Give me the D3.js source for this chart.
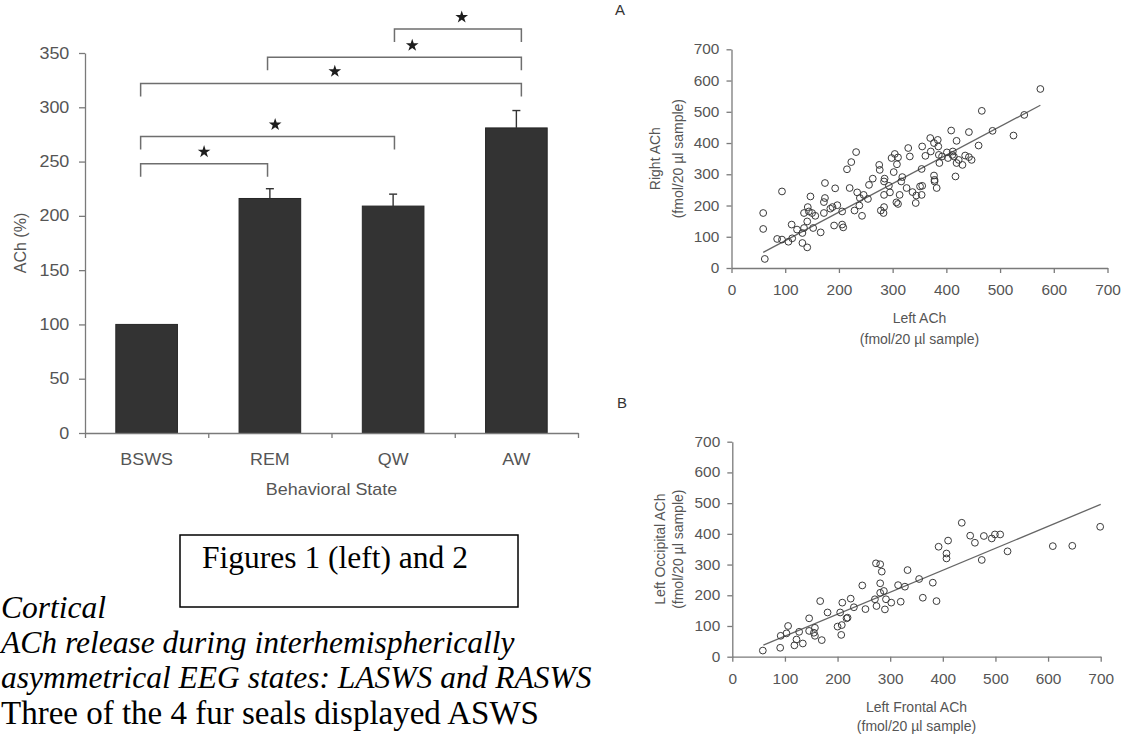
<!DOCTYPE html>
<html>
<head>
<meta charset="utf-8">
<script src="https://cdn.jsdelivr.net/npm/d3@7"></script>
<style>
    body { margin: 0; background: #fff; }
    svg { display: block; }
    .sans { font-family: "Liberation Sans", Arial, sans-serif; fill: #555; }
    .stretch text, text.stretch { transform: scaleX(1.12); }
    .serif { font-family: "Liberation Serif", "Times New Roman", serif; fill: #000; }
</style>
</head>
<body>
<svg id="chart" width="1125" height="737"></svg>
<script>
// Figure 1: ACh by behavioral state
let states = ['BSWS', 'REM', 'QW', 'AW'];
let achPercent = [100, 216, 209, 281];
let achError = [0, 9, 11, 16];
let barTicks = [0, 50, 100, 150, 200, 250, 300, 350];

// significance brackets: [from, to, height in %]
let compareFrom = ['BSWS', 'BSWS', 'BSWS', 'REM', 'QW'];
let compareTo = ['REM', 'QW', 'AW', 'AW', 'AW'];
let compareLevel = [248, 273, 322, 346, 372];

// Figure 2A: left vs right ACh
let leftACh = [62, 59, 59, 94, 85, 94, 106, 113, 112, 122, 132, 132, 141, 135, 141, 135, 142, 147, 144, 150,
    156, 152, 166, 172, 174, 174, 172, 184, 188, 191, 193, 197, 206, 206, 208, 215, 223, 220, 232, 229,
    234, 238, 239, 243, 246, 254, 256, 263, 275, 276, 278, 283, 284, 284, 284, 285, 293, 295, 298, 302,
    304, 308, 310, 307, 310, 313, 316, 318, 326, 329, 332, 337, 343, 344, 351, 354, 354, 355, 355, 361,
    370, 371, 377, 377, 378, 378, 382, 384, 385, 386, 387, 392, 401, 403, 409, 411, 414, 412, 417, 419,
    419, 423, 430, 435, 442, 442, 447, 460, 466, 486, 525, 545, 575];
let rightACh = [29, 176, 125, 245, 93, 91, 84, 95, 139, 123, 112, 80, 66, 128, 149, 176, 195, 229, 181, 176,
    167, 128, 114, 176, 272, 224, 211, 190, 195, 136, 255, 201, 181, 139, 130, 316, 339, 256, 371, 184,
    242, 200, 224, 167, 234, 221, 266, 286, 330, 314, 184, 176, 195, 234, 277, 286, 263, 242, 352, 307,
    365, 332, 354, 210, 205, 234, 277, 291, 256, 384, 357, 243, 208, 232, 261, 234, 317, 389, 263, 359,
    416, 373, 400, 296, 282, 277, 256, 410, 389, 362, 336, 357, 370, 352, 440, 362, 357, 373, 293, 407,
    336, 346, 330, 360, 435, 355, 346, 392, 503, 439, 424, 490, 573];
let fitA_x = [59, 575];
let fitA_y = [50, 521];

// Figure 2B: left frontal vs left occipital ACh
let frontalACh = [58, 91, 92, 106, 103, 118, 122, 127, 134, 146, 146, 155, 157, 157, 167, 170, 181, 200, 205, 207,
    208, 209, 217, 219, 225, 231, 247, 253, 274, 273, 281, 284, 281, 271, 281, 288, 290, 292, 302, 315,
    320, 328, 333, 355, 362, 381, 388, 392, 407, 407, 410, 436, 452, 461, 474, 478, 493, 499, 509, 523,
    609, 646, 699];
let occipitalACh = [20, 29, 68, 100, 76, 37, 56, 81, 43, 125, 84, 78, 68, 94, 181, 54, 144, 98, 144, 71,
    103, 176, 125, 127, 189, 161, 232, 155, 165, 304, 301, 277, 239, 187, 208, 214, 154, 187, 176, 233,
    179, 228, 282, 253, 192, 241, 181, 358, 336, 320, 378, 436, 394, 371, 315, 393, 385, 398, 398, 343,
    360, 361, 423];
let fitB_x = [59, 700];
let fitB_y = [38, 496];

let scatterTicks = [0, 100, 200, 300, 400, 500, 600, 700];

let svg = d3.select('#chart');
svg.append('rect').attr('width', 1125).attr('height', 737).attr('fill', '#fff');

function styleAxis(g) {
    g.selectAll('path, line').attr('stroke', '#7a7a7a').attr('stroke-width', 1.3);
    g.selectAll('text').attr('class', 'sans').attr('fill', '#555');
}

// ---------- bar chart ----------
let barLeft = 85, barRight = 578, barBottom = 433, barTop = 53;

let x = d3.scaleBand()
    .domain(states)
    .range([barLeft, barRight])
    .paddingInner(0.5)
    .paddingOuter(0.25);

let y = d3.scaleLinear()
    .domain([0, 350])
    .range([barBottom, barTop]);

let barData = states.map((s, i) => ({ state: s, value: achPercent[i], err: achError[i] }));

svg.append('g')
    .selectAll('rect')
    .data(barData)
    .enter().append('rect')
    .attr('x', d => x(d.state))
    .attr('width', x.bandwidth())
    .attr('y', d => y(d.value))
    .attr('height', d => barBottom - y(d.value))
    .attr('fill', '#333')
    .attr('stroke', '#262626')
    .attr('stroke-width', 1);

// error bars
let errG = svg.append('g').attr('stroke', '#333').attr('stroke-width', 1.4);
barData.filter(d => d.err > 0).forEach(d => {
    let cx = x(d.state) + x.bandwidth() / 2;
    errG.append('line').attr('x1', cx).attr('x2', cx)
        .attr('y1', y(d.value)).attr('y2', y(d.value + d.err));
    errG.append('line').attr('x1', cx - 4).attr('x2', cx + 4)
        .attr('y1', y(d.value + d.err)).attr('y2', y(d.value + d.err));
});

// y axis
let yAxisG = svg.append('g')
    .attr('transform', 'translate(' + barLeft + ',0)')
    .call(d3.axisLeft(y).tickValues(barTicks).tickSize(6).tickSizeOuter(0).tickPadding(8));
styleAxis(yAxisG);
yAxisG.attr('font-size', null).attr('font-family', null);
yAxisG.selectAll('text').style('font-size', '16px').classed('stretch', true);

// x axis: ticks between the categories
let xBounds = d3.scaleLinear().domain([0, states.length]).range([barLeft, barRight]);
let xAxisG = svg.append('g')
    .attr('transform', 'translate(0,' + barBottom + ')')
    .call(d3.axisBottom(xBounds).tickValues([0, 1, 2, 3, 4]).tickSize(5).tickSizeOuter(0).tickFormat(''));
styleAxis(xAxisG);

let xLabG = svg.append('g')
    .attr('transform', 'translate(0,' + barBottom + ')')
    .call(d3.axisBottom(x).tickSize(0).tickPadding(21));
xLabG.select('.domain').remove();
styleAxis(xLabG);
xLabG.attr('font-size', null).attr('font-family', null);
xLabG.selectAll('text').style('font-size', '16px').classed('stretch', true);

svg.append('g')
    .attr('transform', 'translate(' + ((barLeft + barRight) / 2) + ',495)')
    .append('text')
    .attr('class', 'sans stretch')
    .attr('text-anchor', 'middle')
    .style('font-size', '16px')
    .text('Behavioral State');

svg.append('text')
    .attr('class', 'sans')
    .attr('transform', 'translate(26,243) rotate(-90)')
    .attr('text-anchor', 'middle')
    .style('font-size', '16px')
    .text('ACh (%)');

// significance brackets
let legX = d3.scalePoint()
    .domain(states)
    .range([x('BSWS') + x.bandwidth() / 2 - 6, x('AW') + x.bandwidth() / 2 + 5]);
let starFrac = [0.5, 0.53, 0.51, 0.57, 0.53];
let brG = svg.append('g');
compareFrom.forEach((from, i) => {
    let x1 = legX(from), x2 = legX(compareTo[i]);
    let yy = y(compareLevel[i]);
    brG.append('path')
        .attr('d', 'M' + x1 + ',' + (yy + 13) + 'V' + yy + 'H' + x2 + 'V' + (yy + 13))
        .attr('fill', 'none')
        .attr('stroke', '#6e6e6e')
        .attr('stroke-width', 1.5);
    brG.append('path')
        .attr('d', d3.symbol(d3.symbolStar).size(50)())
        .attr('transform', 'translate(' + (x1 + (x2 - x1) * starFrac[i]) + ',' + (yy - 12) + ')')
        .attr('fill', '#1e1e1e');
});

// ---------- scatter plots ----------
function drawScatter(o) {
    let sx = d3.scaleLinear().domain([0, 700]).range([o.left, o.right]);
    let sy = d3.scaleLinear().domain([0, 700]).range([o.bottom, o.top]);

    let gx = svg.append('g')
        .attr('transform', 'translate(0,' + o.bottom + ')')
        .call(d3.axisBottom(sx).tickValues(scatterTicks).tickSize(5).tickSizeOuter(0).tickPadding(12));
    let gy = svg.append('g')
        .attr('transform', 'translate(' + o.left + ',0)')
        .call(d3.axisLeft(sy).tickValues(scatterTicks).tickSize(5).tickSizeOuter(0).tickPadding(6));
    [gx, gy].forEach(g => {
        styleAxis(g);
        g.attr('font-size', null).attr('font-family', null);
        g.selectAll('text').style('font-size', '14px').style('transform', 'scaleX(1.1)');
    });

    svg.append('line')
        .attr('x1', sx(o.fitX[0])).attr('y1', sy(o.fitY[0]))
        .attr('x2', sx(o.fitX[1])).attr('y2', sy(o.fitY[1]))
        .attr('stroke', '#666')
        .attr('stroke-width', 1.3);

    svg.append('g')
        .selectAll('circle')
        .data(o.xs.map((v, i) => [v, o.ys[i]]))
        .enter().append('circle')
        .attr('cx', d => sx(d[0]))
        .attr('cy', d => sy(d[1]))
        .attr('r', 3.4)
        .attr('fill', 'none')
        .attr('stroke', '#3a3a3a')
        .attr('stroke-width', 1);

    let cx = (o.left + o.right) / 2;
    o.xTitle.forEach((t, i) => {
        svg.append('text')
            .attr('class', 'sans')
            .attr('x', cx)
            .attr('y', o.xTitleY[i])
            .attr('text-anchor', 'middle')
            .style('font-size', '14px')
            .text(t);
    });
    let cy = (o.top + o.bottom) / 2;
    o.yTitle.forEach((t, i) => {
        svg.append('text')
            .attr('class', 'sans')
            .attr('transform', 'translate(' + o.yTitleX[i] + ',' + cy + ') rotate(-90)')
            .attr('text-anchor', 'middle')
            .style('font-size', '14px')
            .text(t);
    });

    svg.append('text')
        .attr('class', 'sans')
        .attr('x', o.panelX)
        .attr('y', o.panelY)
        .style('font-size', '15px')
        .style('fill', '#333')
        .text(o.panel);
}

drawScatter({
    xs: leftACh, ys: rightACh, fitX: fitA_x, fitY: fitA_y,
    left: 731.5, right: 1107.5, top: 49.3, bottom: 268,
    xTitle: ['Left ACh', '(fmol/20 µl sample)'], xTitleY: [323, 344],
    yTitle: ['Right ACh', '(fmol/20 µl sample)'], yTitleX: [660, 683],
    panel: 'A', panelX: 615, panelY: 15
});

drawScatter({
    xs: frontalACh, ys: occipitalACh, fitX: fitB_x, fitY: fitB_y,
    left: 732.3, right: 1100.7, top: 441.7, bottom: 656.7,
    xTitle: ['Left Frontal ACh', '(fmol/20 µl sample)'], xTitleY: [712, 731],
    yTitle: ['Left Occipital ACh', '(fmol/20 µl sample)'], yTitleX: [665, 683],
    panel: 'B', panelX: 617, panelY: 408
});

// ---------- caption box and body text ----------
svg.append('rect')
    .attr('x', 180).attr('y', 535)
    .attr('width', 338).attr('height', 72)
    .attr('fill', 'none')
    .attr('stroke', '#000')
    .attr('stroke-width', 1.5);
svg.append('text')
    .attr('class', 'serif')
    .attr('x', 202).attr('y', 568)
    .style('font-size', '31.5px')
    .text('Figures 1 (left) and 2');

let bodyLines = ['Cortical', 'ACh release during interhemispherically',
    'asymmetrical EEG states: LASWS and RASWS', 'Three of the 4 fur seals displayed ASWS'];
let bodyItalic = [true, true, true, false];
let bodyBaseline = [618, 653, 688, 724];
bodyLines.forEach((t, i) => {
    svg.append('text')
        .attr('class', 'serif')
        .attr('x', 1)
        .attr('y', bodyBaseline[i])
        .style('font-size', bodyItalic[i] ? '31.5px' : '33px')
        .style('font-style', bodyItalic[i] ? 'italic' : 'normal')
        .text(t);
});
</script>
</body>
</html>
